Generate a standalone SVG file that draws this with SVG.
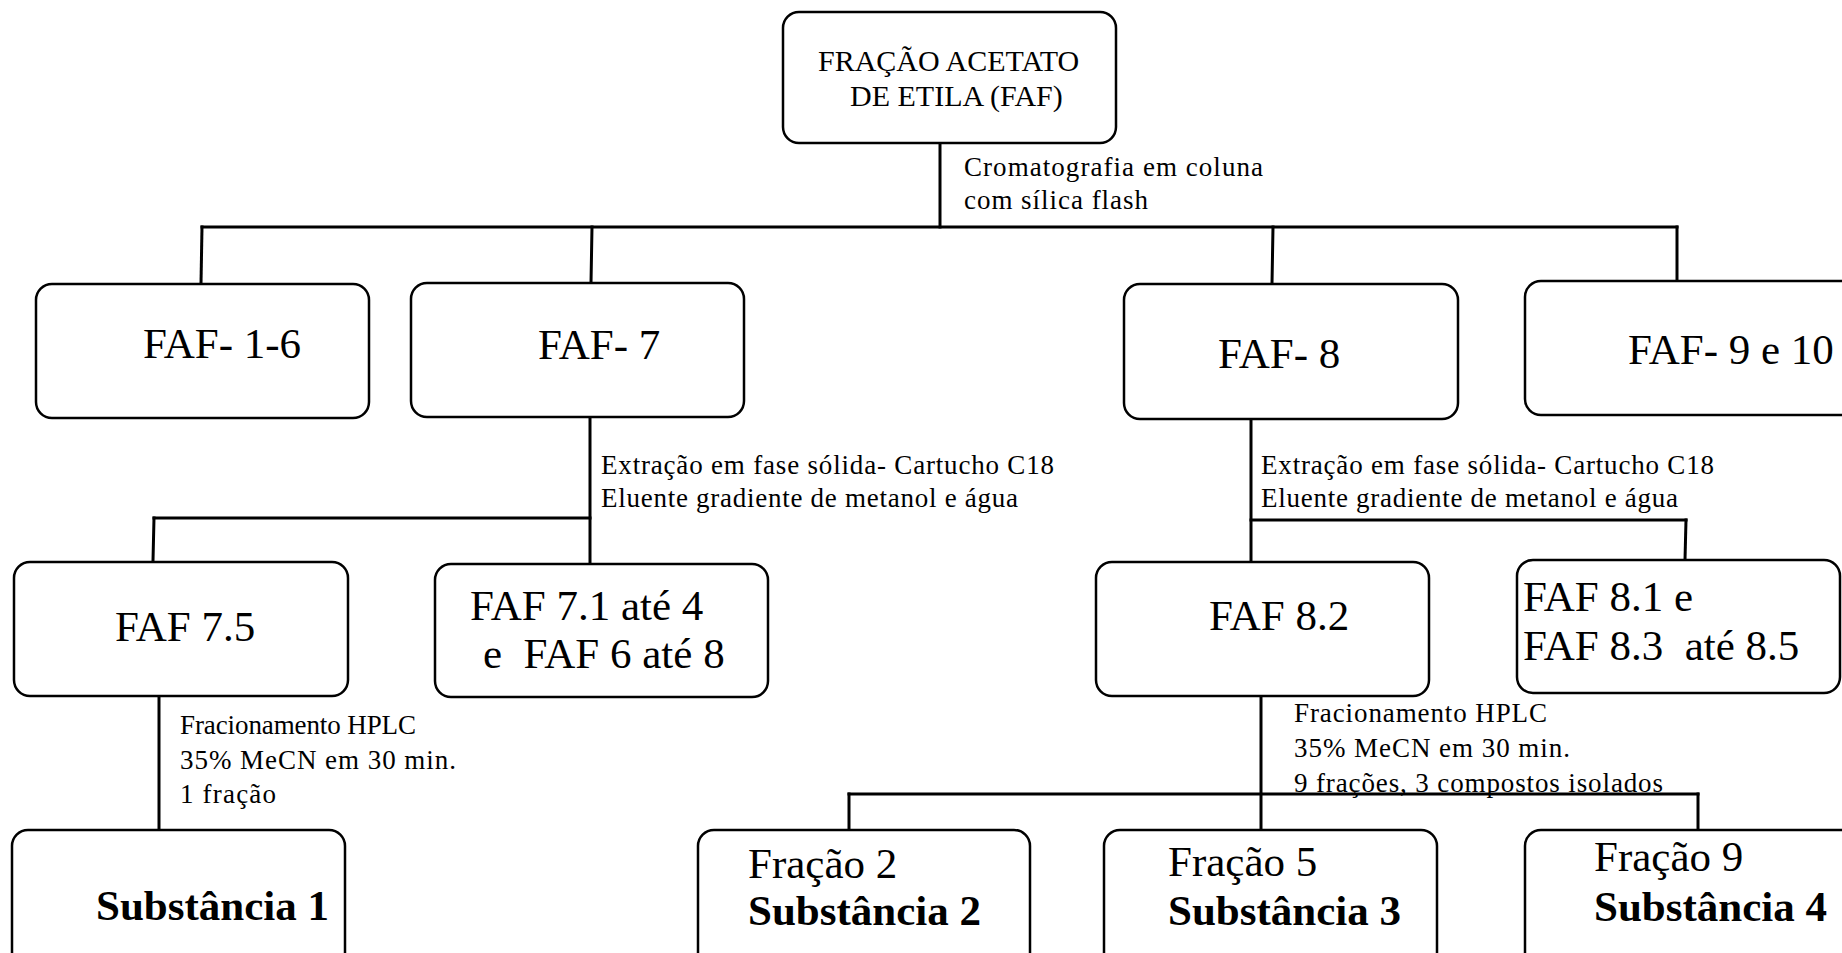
<svg xmlns="http://www.w3.org/2000/svg" width="1842" height="953" viewBox="0 0 1842 953">
<style>
.box{fill:#fff;stroke:#000;stroke-width:2.5}
.t{font-family:"Liberation Serif","Times New Roman",serif;fill:#000}
.big{font-size:43px}
.bold{font-size:43px;font-weight:bold}
.lbl{font-size:27px}
.top{font-size:30px}
.c line{stroke:#000;stroke-width:3;stroke-linecap:square}
</style>
<rect width="1842" height="953" fill="#fff"/>
<g id="connectors" class="c">
<line x1="940" y1="144" x2="940" y2="227"/>
<line x1="202" y1="227" x2="1677" y2="227"/>
<line x1="202" y1="227" x2="201" y2="283"/>
<line x1="592" y1="227" x2="591" y2="283"/>
<line x1="1273" y1="227" x2="1272" y2="284"/>
<line x1="1677" y1="227" x2="1677" y2="281"/>
<line x1="590" y1="417" x2="590" y2="564"/>
<line x1="154" y1="518" x2="590" y2="518"/>
<line x1="154" y1="518" x2="153" y2="561"/>
<line x1="1251" y1="419" x2="1251" y2="561"/>
<line x1="1251" y1="520" x2="1686" y2="520"/>
<line x1="1686" y1="520" x2="1685" y2="560"/>
<line x1="159" y1="696" x2="159" y2="829"/>
<line x1="1261" y1="696" x2="1261" y2="829"/>
<line x1="849" y1="794" x2="1698" y2="794"/>
<line x1="849" y1="794" x2="849" y2="829"/>
<line x1="1698" y1="794" x2="1698" y2="829"/>
</g>
<g id="labels">
<text class="t lbl" x="964" y="176" textLength="299">Cromatografia em coluna</text>
<text class="t lbl" x="964" y="209" textLength="184">com sílica flash</text>
<text class="t lbl" x="601" y="474" textLength="453">Extração em fase sólida- Cartucho C18</text>
<text class="t lbl" x="601" y="507" textLength="417">Eluente gradiente de metanol e água</text>
<text class="t lbl" x="1261" y="474" textLength="453">Extração em fase sólida- Cartucho C18</text>
<text class="t lbl" x="1261" y="507" textLength="417">Eluente gradiente de metanol e água</text>
<text class="t lbl" x="180" y="734" textLength="236">Fracionamento HPLC</text>
<text class="t lbl" x="180" y="769" textLength="276">35% MeCN em 30 min.</text>
<text class="t lbl" x="180" y="803" textLength="96">1 fração</text>
<text class="t lbl" x="1294" y="722" textLength="253">Fracionamento HPLC</text>
<text class="t lbl" x="1294" y="757" textLength="276">35% MeCN em 30 min.</text>
<text class="t lbl" x="1294" y="792" textLength="369">9 frações, 3 compostos isolados</text>
</g>
<g id="faf">
<rect class="box" x="783" y="12" width="333" height="131" rx="16"/>
<text class="t top" x="818" y="71">FRAÇÃO ACETATO</text>
<text class="t top" x="850" y="106">DE ETILA (FAF)</text>
</g>
<g id="faf-1-6">
<rect class="box" x="36" y="284" width="333" height="134" rx="16"/>
<text class="t big" x="143" y="358">FAF- 1-6</text>
</g>
<g id="faf-7">
<rect class="box" x="411" y="283" width="333" height="134" rx="16"/>
<text class="t big" x="538" y="359">FAF- 7</text>
</g>
<g id="faf-8">
<rect class="box" x="1124" y="284" width="334" height="135" rx="16"/>
<text class="t big" x="1218" y="368">FAF- 8</text>
</g>
<g id="faf-9-10">
<rect class="box" x="1525" y="281" width="340" height="134" rx="16"/>
<text class="t big" x="1628" y="364">FAF- 9 e 10</text>
</g>
<g id="faf-7-5">
<rect class="box" x="14" y="562" width="334" height="134" rx="16"/>
<text class="t big" x="115" y="641">FAF 7.5</text>
</g>
<g id="faf-7-1">
<rect class="box" x="435" y="564" width="333" height="133" rx="16"/>
<text class="t big" x="470" y="620">FAF 7.1 até 4</text>
<text class="t big" x="483" y="668" xml:space="preserve">e  FAF 6 até 8</text>
</g>
<g id="faf-8-2">
<rect class="box" x="1096" y="562" width="333" height="134" rx="16"/>
<text class="t big" x="1209" y="630">FAF 8.2</text>
</g>
<g id="faf-8-1">
<rect class="box" x="1517" y="560" width="323" height="133" rx="16"/>
<text class="t big" x="1523" y="611">FAF 8.1 e</text>
<text class="t big" x="1523" y="660" xml:space="preserve">FAF 8.3  até 8.5</text>
</g>
<g id="sub1">
<rect class="box" x="12" y="830" width="333" height="140" rx="16"/>
<text class="t bold" x="96" y="920">Substância 1</text>
</g>
<g id="sub2">
<rect class="box" x="698" y="830" width="332" height="140" rx="16"/>
<text class="t big" x="748" y="878">Fração 2</text>
<text class="t bold" x="748" y="925">Substância 2</text>
</g>
<g id="sub3">
<rect class="box" x="1104" y="830" width="333" height="140" rx="16"/>
<text class="t big" x="1168" y="876">Fração 5</text>
<text class="t bold" x="1168" y="925">Substância 3</text>
</g>
<g id="sub4">
<rect class="box" x="1525" y="830" width="340" height="140" rx="16"/>
<text class="t big" x="1594" y="871">Fração 9</text>
<text class="t bold" x="1594" y="921">Substância 4</text>
</g>
</svg>
